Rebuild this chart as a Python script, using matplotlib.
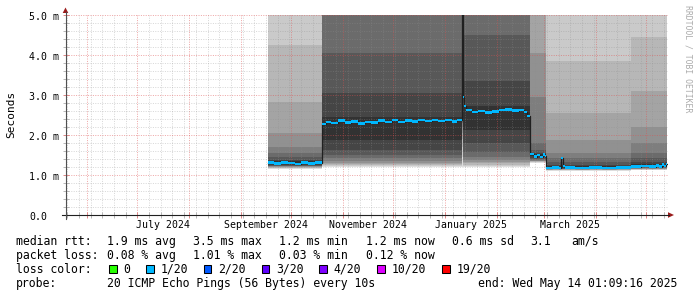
import numpy as np
import pandas as pd
import matplotlib
matplotlib.use("Agg")
import matplotlib.pyplot as plt
import matplotlib.dates as mdates
from matplotlib.ticker import MultipleLocator
from matplotlib.lines import Line2D
from matplotlib.patches import Polygon, Rectangle
from matplotlib.transforms import offset_copy

# ---------------- data ----------------
graph_end = "2025-05-14 01:09:16"
graph_days = 360

# smoke segments (start of each segment; last entry = end of data)
seg_starts = ["2024-09-17 00:00", "2024-10-19 12:00", "2025-01-11 00:00",
              "2025-01-12 00:00", "2025-02-21 00:00", "2025-03-02 12:00",
              "2025-04-22 00:00", "2025-05-14 01:09"]

# 20 sorted ping rtts (ms) per segment
seg1_pings = [1.15, 1.17, 1.185, 1.195, 1.205, 1.215, 1.225, 1.235, 1.25, 1.27,
              1.34, 1.38, 1.46, 1.54, 1.71, 2.05, 2.83, 4.25, 5.30, 6.20]
seg2_pings = [1.19, 1.22, 1.24, 1.27, 1.31, 1.36, 1.42, 1.50, 1.62, 1.87,
              2.45, 3.05, 4.05, 5.20, 5.60, 6.00, 6.50, 7.00, 8.00, 9.00]
spike_pings = [1.20, 1.45, 1.70, 1.90, 2.05, 2.20, 2.30, 2.40, 2.55, 2.90,
               3.60, 4.30, 5.20, 6.00, 7.00, 8.00, 9.00, 10.0, 11.0, 12.0]
seg3_pings = [1.20, 1.23, 1.26, 1.29, 1.33, 1.38, 1.45, 1.57, 1.80, 2.12,
              2.72, 3.35, 4.50, 5.30, 5.80, 6.30, 7.00, 8.00, 9.00, 10.0]
seg4_pings = [1.30, 1.32, 1.33, 1.34, 1.35, 1.36, 1.38, 1.40, 1.43, 1.47,
              1.52, 1.56, 1.62, 1.80, 2.95, 4.05, 5.30, 6.00, 7.00, 8.00]
seg5_pings = [1.11, 1.12, 1.13, 1.135, 1.14, 1.145, 1.15, 1.16, 1.165, 1.17,
              1.22, 1.26, 1.32, 1.42, 1.55, 1.87, 2.55, 3.85, 5.40, 6.50]
seg6_pings = [1.12, 1.13, 1.14, 1.15, 1.16, 1.17, 1.18, 1.19, 1.20, 1.21,
              1.27, 1.33, 1.42, 1.55, 1.80, 2.20, 3.10, 4.45, 5.50, 6.50]

# median rtt (ms), step series
median_dates = ["2024-09-17", "2024-09-21", "2024-09-25", "2024-09-29", "2024-10-03",
                "2024-10-07", "2024-10-11", "2024-10-15",
                "2024-10-19 12:00", "2024-10-22", "2024-10-25", "2024-10-29", "2024-11-02",
                "2024-11-06", "2024-11-10", "2024-11-14", "2024-11-18", "2024-11-22",
                "2024-11-26", "2024-11-30", "2024-12-04", "2024-12-08", "2024-12-12",
                "2024-12-16", "2024-12-20", "2024-12-24", "2024-12-28", "2025-01-01",
                "2025-01-05", "2025-01-08",
                "2025-01-11 00:00", "2025-01-11 12:00", "2025-01-12 00:00", "2025-01-12 12:00",
                "2025-01-13 12:00", "2025-01-17", "2025-01-21", "2025-01-25", "2025-01-29",
                "2025-02-02", "2025-02-06", "2025-02-10", "2025-02-14", "2025-02-17",
                "2025-02-19",
                "2025-02-21", "2025-02-23", "2025-02-25", "2025-02-27", "2025-02-28 12:00",
                "2025-03-01 12:00",
                "2025-03-02 12:00", "2025-03-06", "2025-03-10", "2025-03-11 12:00",
                "2025-03-12 12:00", "2025-03-13 12:00", "2025-03-20", "2025-03-28",
                "2025-04-05", "2025-04-13", "2025-04-22", "2025-04-28", "2025-05-03",
                "2025-05-07", "2025-05-09", "2025-05-11", "2025-05-12", "2025-05-13"]
median_vals = [1.31, 1.29, 1.31, 1.30, 1.28, 1.31, 1.29, 1.31,
               2.27, 2.33, 2.30, 2.36, 2.31, 2.34, 2.29, 2.33, 2.31, 2.36,
               2.33, 2.37, 2.33, 2.36, 2.34, 2.37, 2.35, 2.38, 2.35, 2.37,
               2.34, 2.38,
               5.60, 3.46, 2.95, 2.72, 2.62, 2.57, 2.60, 2.56, 2.59,
               2.62, 2.64, 2.61, 2.63, 2.57, 2.48,
               1.52, 1.46, 1.50, 1.45, 1.51, 1.47,
               1.17, 1.19, 1.18, 1.42, 1.22, 1.19, 1.18, 1.19,
               1.18, 1.19, 1.21, 1.22, 1.21, 1.24, 1.21, 1.26, 1.22, 1.27]
data_end = "2025-05-14 01:09"

y_ticks = [0, 1, 2, 3, 4, 5]
y_labels = ["0.0", "1.0 m", "2.0 m", "3.0 m", "4.0 m", "5.0 m"]
x_label_months = ["2024-07-01", "2024-09-01", "2024-11-01", "2025-01-01", "2025-03-01"]
x_labels = ["July 2024", "September 2024", "November 2024", "January 2025", "March 2025"]

rtt_values = [1.9, 3.5, 1.2, 1.2, 0.6]
rtt_kinds = ["ms avg", "ms max", "ms min", "ms now", "ms sd"]
am_s = 3.1
loss_values = [0.08, 1.01, 0.03, 0.12]
loss_kinds = ["% avg", "% max", "% min", "% now"]
loss_labels = ["0", "1/20", "2/20", "3/20", "4/20", "10/20", "19/20"]
loss_colors = ["#26ff00", "#00b8ff", "#0059ff", "#5e00ff", "#7e00ff", "#dd00ff", "#ff0000"]
probe_text = "20 ICMP Echo Pings (56 Bytes) every 10s"
end_text = "end: Wed May 14 01:09:16 2025"


def to_num(strings):
    return mdates.date2num(pd.to_datetime(strings, format="mixed"))


# ---------------- figure ----------------
W, H = 697, 297
MONO = "DejaVu Sans Mono"
fig = plt.figure(figsize=(W / 100, H / 100), dpi=100)
fig.patch.set_facecolor("white")


def fx(px):
    return px / W


def fy(py):
    return 1 - py / H


L, R, T, B = 65.5, 667.5, 15, 215
ax = fig.add_axes([fx(L), fy(B), (R - L) / W, (B - T) / H])
ax.set_facecolor("white")

end_num = to_num([graph_end])[0]
ax.set_xlim(end_num - graph_days, end_num)
ax.set_ylim(0, 5.0)

# smoke
seg_x = to_num(seg_starts)
pings = np.array([seg1_pings, seg2_pings, spike_pings, seg3_pings,
                  seg4_pings, seg5_pings, seg6_pings])
n = pings.shape[1]
half = n // 2
for i in range(1, half + 1):
    g = int(190 / half * (half - i)) + 50
    col = "#%02x%02x%02x" % (g, g, g)
    lo = np.append(pings[:, i - 1], pings[-1, i - 1])
    hi = np.append(pings[:, n - i], pings[-1, n - i])
    ax.fill_between(seg_x, lo, hi, step="post", color=col, lw=0, zorder=1)

# median
mx = to_num(median_dates + [data_end])
mv = np.append(np.array(median_vals), median_vals[-1])
ax.step(mx, mv, where="post", color="#202020", lw=0.9, zorder=3)
sw = 0.032
ax.fill_between(mx, mv - sw, mv + sw, step="post", color=loss_colors[1], lw=0, zorder=4)

# grid (dotted, drawn over the smoke)
ax.xaxis.set_major_locator(mdates.MonthLocator())
ax.xaxis.set_minor_locator(mdates.WeekdayLocator(byweekday=mdates.MO))
ax.yaxis.set_major_locator(MultipleLocator(1.0))
ax.yaxis.set_minor_locator(MultipleLocator(0.2))
ax.set_axisbelow("line")
ax.grid(which="major", color="#de5050", alpha=0.5, lw=0.72, linestyle=(0, (1, 1.4)))
ax.grid(which="minor", color="#8f8f8f", alpha=0.35, lw=0.72, linestyle=(0, (1, 1.4)))
ax.tick_params(which="both", direction="inout", width=0.72,
               labelbottom=False, labelleft=False)
ax.tick_params(which="major", length=4, color="#e08a8a")
ax.tick_params(which="minor", length=4, color="#b8b8b8")
for s in ax.spines.values():
    s.set_visible(False)

# axis lines and arrows
fig.add_artist(Line2D([fx(62), fx(669)], [fy(B), fy(B)], color="#202020", lw=0.8))
fig.add_artist(Line2D([fx(L), fx(L)], [fy(219), fy(12)], color="#505050", lw=0.8))
fig.add_artist(Polygon([[fx(L), fy(7.5)], [fx(L - 2.8), fy(13)], [fx(L + 2.8), fy(13)]],
                       closed=True, color="#9b1c1c", lw=0))
fig.add_artist(Polygon([[fx(674), fy(B)], [fx(668), fy(B - 2.8)], [fx(668), fy(B + 2.8)]],
                       closed=True, color="#9b1c1c", lw=0))

# y tick labels
ytr = offset_copy(ax.get_yaxis_transform(), fig=fig, x=0, y=-4.5, units="dots")
for v, lab in zip(y_ticks, y_labels):
    ax.text((29 - L) / (R - L), v, lab, transform=ytr, ha="left", va="baseline",
            fontsize=7.1, family=MONO, color="#000000", clip_on=False)

# x labels centred mid-month
for m, lab in zip(x_label_months, x_labels):
    t0 = pd.Timestamp(m)
    t1 = t0 + pd.offsets.MonthBegin(1)
    xm = mdates.date2num(t0 + (t1 - t0) / 2)
    ax.text(xm, -(228 - B) / (B - T), lab, transform=ax.get_xaxis_transform(),
            ha="center", va="baseline", fontsize=7.1, family=MONO, color="#000000",
            clip_on=False)

fig.text(fx(11), fy(114), "Seconds", rotation=90, ha="center", va="center",
         fontsize=8.0, family=MONO, color="#000000")
fig.text(fx(688), fy(5), "RRDTOOL / TOBI OETIKER", rotation=270, ha="center", va="top",
         fontsize=5.9, family=MONO, color="#ababab")

# legend
FS = 8.3
rows = [245, 259, 273, 287]
fig.text(fx(16), fy(rows[0]), "median rtt:", fontsize=FS, family=MONO, va="baseline")
rtt_x = [107.3, 193.3, 279.3, 365.5, 451.7]
for x, v, k in zip(rtt_x, rtt_values, rtt_kinds):
    fig.text(fx(x), fy(rows[0]), f"{v:.1f} {k}", fontsize=FS, family=MONO, va="baseline")
fig.text(fx(530), fy(rows[0]), f"{am_s:.1f}", fontsize=FS, family=MONO, va="baseline")
fig.text(fx(571.7), fy(rows[0]), "am/s", fontsize=FS, family=MONO, va="baseline")

fig.text(fx(16), fy(rows[1]), "packet loss:", fontsize=FS, family=MONO, va="baseline")
loss_x = [107.3, 193.3, 279.3, 365.5]
for x, v, k in zip(loss_x, loss_values, loss_kinds):
    fig.text(fx(x), fy(rows[1]), f"{v:.2f} {k}", fontsize=FS, family=MONO, va="baseline")

fig.text(fx(16), fy(rows[2]), "loss color:", fontsize=FS, family=MONO, va="baseline")
box_x = [109, 146, 203.5, 261.5, 319, 377.3, 442.3]
for bx, c, lab in zip(box_x, loss_colors, loss_labels):
    fig.add_artist(Rectangle((fx(bx), fy(273)), 7.5 / W, 8.5 / H, facecolor=c,
                             edgecolor="#000000", lw=0.75))
    fig.text(fx(bx + 14.6), fy(rows[2]), lab, fontsize=FS, family=MONO, va="baseline")

fig.text(fx(16), fy(rows[3]), "probe:", fontsize=FS, family=MONO, va="baseline")
fig.text(fx(107.3), fy(rows[3]), probe_text, fontsize=FS, family=MONO, va="baseline")
fig.text(fx(478.3), fy(rows[3]), end_text, fontsize=FS, family=MONO, va="baseline")

fig.savefig("out.png", dpi=100, facecolor="white")
